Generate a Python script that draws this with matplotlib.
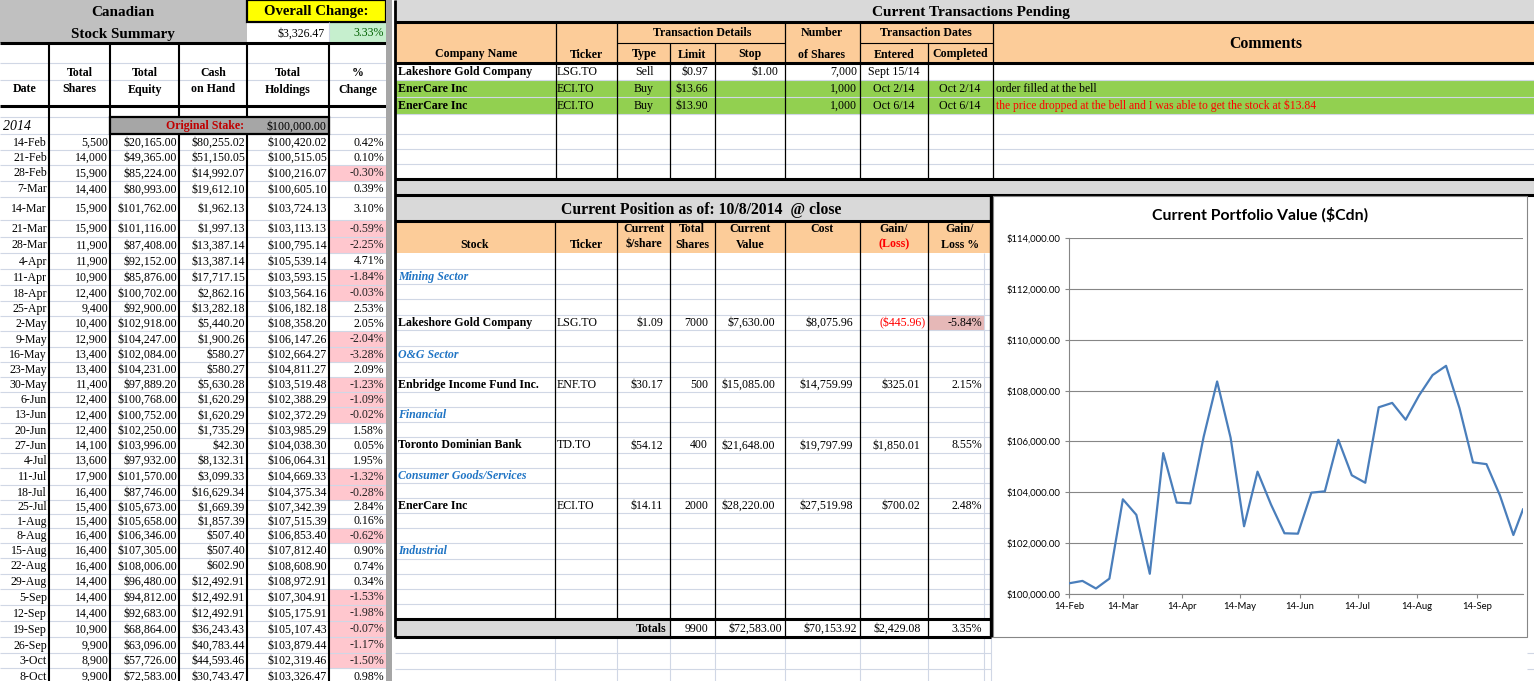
import pandas as pd
import matplotlib
matplotlib.use("Agg")
import matplotlib.pyplot as plt
import matplotlib.dates as mdates
from matplotlib.patches import Rectangle
from matplotlib.ticker import FuncFormatter, MultipleLocator

# ---------------- data: Canadian stock summary ----------------
summary_dates = ["14-Feb", "21-Feb", "28-Feb", "7-Mar", "14-Mar", "21-Mar", "28-Mar",
                 "4-Apr", "11-Apr", "18-Apr", "25-Apr", "2-May", "9-May", "16-May",
                 "23-May", "30-May", "6-Jun", "13-Jun", "20-Jun", "27-Jun", "4-Jul",
                 "11-Jul", "18-Jul", "25-Jul", "1-Aug", "8-Aug", "15-Aug", "22-Aug",
                 "29-Aug", "5-Sep", "12-Sep", "19-Sep", "26-Sep", "3-Oct", "8-Oct"]
total_shares = [5500, 14000, 15900, 14400, 15900, 15900, 11900, 11900, 10900, 12400,
                9400, 10400, 12900, 13400, 13400, 11400, 12400, 12400, 12400, 14100,
                13600, 17900, 16400, 15400, 15400, 16400, 16400, 16400, 14400, 14400,
                14400, 10900, 9900, 8900, 9900]
total_equity = [20165.00, 49365.00, 85224.00, 80993.00, 101762.00, 101116.00, 87408.00,
                92152.00, 85876.00, 100702.00, 92900.00, 102918.00, 104247.00, 102084.00,
                104231.00, 97889.20, 100768.00, 100752.00, 102250.00, 103996.00, 97932.00,
                101570.00, 87746.00, 105673.00, 105658.00, 106346.00, 107305.00, 108006.00,
                96480.00, 94812.00, 92683.00, 68864.00, 63096.00, 57726.00, 72583.00]
cash_on_hand = [80255.02, 51150.05, 14992.07, 19612.10, 1962.13, 1997.13, 13387.14,
                13387.14, 17717.15, 2862.16, 13282.18, 5440.20, 1900.26, 580.27,
                580.27, 5630.28, 1620.29, 1620.29, 1735.29, 42.30, 8132.31,
                3099.33, 16629.34, 1669.39, 1857.39, 507.40, 507.40, 602.90,
                12492.91, 12492.91, 12492.91, 36243.43, 40783.44, 44593.46, 30743.47]
total_holdings = [100420.02, 100515.05, 100216.07, 100605.10, 103724.13, 103113.13, 100795.14,
                  105539.14, 103593.15, 103564.16, 106182.18, 108358.20, 106147.26, 102664.27,
                  104811.27, 103519.48, 102388.29, 102372.29, 103985.29, 104038.30, 106064.31,
                  104669.33, 104375.34, 107342.39, 107515.39, 106853.40, 107812.40, 108608.90,
                  108972.91, 107304.91, 105175.91, 105107.43, 103879.44, 102319.46, 103326.47]
pct_change = [0.42, 0.10, -0.30, 0.39, 3.10, -0.59, -2.25, 4.71, -1.84, -0.03, 2.53, 2.05,
              -2.04, -3.28, 2.09, -1.23, -1.09, -0.02, 1.58, 0.05, 1.95, -1.32, -0.28, 2.84,
              0.16, -0.62, 0.90, 0.74, 0.34, -1.53, -1.98, -0.07, -1.17, -1.50, 0.98]
original_stake = 100000.00
overall_change = 3326.47
overall_pct = 3.33

# ---------------- data: transactions pending ----------------
tx_company = ["Lakeshore Gold Company", "EnerCare Inc", "EnerCare Inc"]
tx_ticker = ["LSG.TO", "ECI.TO", "ECI.TO"]
tx_type = ["Sell", "Buy", "Buy"]
tx_limit = ["$0.97", "$13.66", "$13.90"]
tx_stop = ["$1.00", "", ""]
tx_shares = ["7,000", "1,000", "1,000"]
tx_entered = ["Sept 15/14", "Oct 2/14", "Oct 6/14"]
tx_completed = ["", "Oct 2/14", "Oct 6/14"]
tx_comments = ["", "order filled at the bell",
               "the price dropped at the bell and I was able to get the stock at $13.84"]

# ---------------- data: current position ----------------
sectors = ["Mining Sector", "O&G Sector", "Financial", "Consumer Goods/Services", "Industrial"]
pos_stock = ["Lakeshore Gold Company", "Enbridge Income Fund Inc.", "Toronto Dominian Bank", "EnerCare Inc"]
pos_ticker = ["LSG.TO", "ENF.TO", "TD.TO", "ECI.TO"]
pos_price = [1.09, 30.17, 54.12, 14.11]
pos_shares = [7000, 500, 400, 2000]
pos_value = [7630.00, 15085.00, 21648.00, 28220.00]
pos_cost = [8075.96, 14759.99, 19797.99, 27519.98]
pos_gain = [-445.96, 325.01, 1850.01, 700.02]
pos_gain_pct = [-5.84, 2.15, 8.55, 2.48]
totals = ["9900", "$72,583.00", "$70,153.92", "$2,429.08", "3.35%"]

# ---------------- layout (pixels) ----------------
W, H = 1534, 681
L_COLS = [0, 49, 110, 179, 247, 329, 386]
L_ROWS = [134, 150, 165, 181, 197, 220, 237, 253, 269, 285, 301, 316, 331, 347, 362, 377,
          392, 407, 423, 438, 453, 468, 485, 500, 514, 528, 543, 558, 574, 589, 605, 621,
          637, 653, 668, 684]
T_ROWS = [63, 80, 97, 114, 134, 149, 164, 179]
P_COLS = [395, 555, 617, 670, 715, 785, 860, 928, 991]
P_ROWS = [253, 269, 284, 299, 315, 330, 346, 362, 377, 392, 407, 422, 437, 453, 468, 483,
          498, 513, 528, 543, 559, 574, 589, 604, 619]
SECTOR_ROW = [1, 6, 10, 14, 19]
STOCK_ROW = [4, 8, 12, 16]

GRID = "#d0d7e5"
PEACH = "#fccc99"
LGRAY = "#d9d9d9"
SERIF = "Liberation Serif"
FS = 8.6

fig = plt.figure(figsize=(W / 100, H / 100), dpi=100)
ax = fig.add_axes([0, 0, 1, 1])
ax.set_xlim(0, W)
ax.set_ylim(H, 0)
ax.axis("off")


def box(x0, y0, x1, y1, fc, z=1, ec="none", lw=0):
    ax.add_patch(Rectangle((x0, y0), x1 - x0, y1 - y0, facecolor=fc, edgecolor=ec, lw=lw, zorder=z))


def hl(y, x0, x1, c="black", lw=0.8, z=3):
    ax.hlines(y, x0, x1, colors=c, lw=lw, zorder=z)


def vl(x, y0, y1, c="black", lw=0.8, z=3):
    ax.vlines(x, y0, y1, colors=c, lw=lw, zorder=z)


def put(x, y, s, ha="left", size=FS, weight="normal", style="normal", color="black", family=SERIF):
    ax.text(x, y + 0.5, s, ha=ha, va="center", fontsize=size, fontweight=weight,
            fontstyle=style, color=color, family=family, zorder=6)


def money(v):
    return f"${v:,.2f}"


# ================= left: stock summary =================
box(0, 0, 247, 43, "#c0c0c0")
put(123, 12, "Canadian", "center", 10.9, "bold")
put(123, 34, "Stock Summary", "center", 10.9, "bold")
box(247, 0, 386, 22, "#ffff00", z=2, ec="black", lw=1.6)
put(316, 11, "Overall Change:", "center", 10.6, "bold")
box(329, 22, 386, 43, "#c6efce")
put(325, 33, money(overall_change), "right")
put(384, 33, f"{overall_pct:.2f}%", "right", color="#006100")
vl(329, 22, 43, GRID, 0.8)
hl(43, 0, 386, lw=2.2)

for y in [63, 80, 117] + L_ROWS:
    hl(y, 0, 386, GRID, 0.8, z=2)
for x in L_COLS[1:-1]:
    vl(x, 43, H, lw=1.5)
hl(106, 0, 386, lw=2.2)

heads = [("", "Date"), ("Total", "Shares"), ("Total", "Equity"), ("Cash", "on Hand"),
         ("Total", "Holdings"), ("%", "Change")]
for i, (a, b) in enumerate(heads):
    cx = (L_COLS[i] + L_COLS[i + 1]) / 2
    put(cx, 72, a, "center", weight="bold")
    put(cx, 89, b, "center", weight="bold")

box(110, 117, 329, 134, "#a6a6a6", z=4, ec="black", lw=1.6)
put(244, 126, "Original Stake:", "right", weight="bold", color="#c00000")
put(326, 126, money(original_stake), "right")
put(3, 126, "2014", size=10, style="italic")

for i, d in enumerate(summary_dates):
    y0, y1 = L_ROWS[i], L_ROWS[i + 1]
    yc = (y0 + y1) / 2
    if pct_change[i] < 0:
        box(330, y0 + 0.5, 386, y1 - 0.5, "#ffc7ce")
    put(47, yc, d, "right")
    put(108, yc, f"{total_shares[i]:,}", "right")
    put(177, yc, money(total_equity[i]), "right")
    put(245, yc, money(cash_on_hand[i]), "right")
    put(327, yc, money(total_holdings[i]), "right")
    put(384, yc, f"{pct_change[i]:.2f}%", "right", color="#222222" if pct_change[i] < 0 else "black")

box(386, 0, 392, H, "#a6a6a6", z=4)

# ================= right top: transactions pending =================
box(395, 0, W, 22, LGRAY)
put(971, 12, "Current Transactions Pending", "center", 11, "bold")
box(395, 22, W, 63, PEACH)
box(395, 80, W, 114, "#92d050")
for y in T_ROWS[1:-1]:
    hl(y, 395, W, GRID, 0.8, z=2)
hl(43, 617, 785, lw=0.8)
hl(43, 860, 993, lw=0.8)
for x in [556, 617, 785, 860, 993]:
    vl(x, 22, 179, lw=0.9)
for x in [670, 715, 928]:
    vl(x, 43, 179, lw=0.9)
hl(22, 395, W, lw=2.2)
hl(63, 395, W, lw=2.2)
hl(179, 395, W, lw=2.2)
box(395, 179, W, 195, LGRAY)
hl(195, 395, W, lw=2.2)

put(702, 32, "Transaction Details", "center", weight="bold")
put(822, 32, "Number", "center", weight="bold")
put(926, 32, "Transaction Dates", "center", weight="bold")
put(1266, 43, "Comments", "center", 11.4, "bold")
for cx, s in [(476, "Company Name"), (587, "Ticker"), (644, "Type"), (692, "Limit"),
              (750, "Stop"), (822, "of Shares"), (894, "Entered"), (960, "Completed")]:
    put(cx, 54, s, "center", weight="bold")

for i in range(len(tx_company)):
    yc = (T_ROWS[i] + T_ROWS[i + 1]) / 2
    put(398, yc, tx_company[i], weight="bold")
    put(557, yc, tx_ticker[i])
    put(644, yc, tx_type[i], "center")
    put(708, yc, tx_limit[i], "right")
    put(778, yc, tx_stop[i], "right")
    put(857, yc, tx_shares[i], "right")
    put(894, yc, tx_entered[i], "center")
    put(960, yc, tx_completed[i], "center")
    put(996, yc, tx_comments[i], size=8.4, color="#ff0000" if i == 2 else "black")

# ================= right bottom: current position =================
box(395, 195, 991, 221, LGRAY)
put(701, 209, "Current Position as of: 10/8/2014  @ close", "center", 11.3, "bold")
hl(221, 395, 991, lw=2.2)
box(395, 221, 991, 253, PEACH)
for y in P_ROWS[1:-1]:
    hl(y, 395, 991, GRID, 0.8, z=2)
vl(984, 253, 619, GRID, 0.8)
for x in [555, 617]:
    vl(x, 221, 619, lw=0.9)
for x in [670, 715, 785, 860, 928]:
    vl(x, 221, 637, lw=0.9)

for cx, a, b in [(475, "", "Stock"), (586, "", "Ticker"), (644, "Current", "$/share"),
                 (692, "Total", "Shares"), (750, "Current", "Value"), (822, "Cost", ""),
                 (894, "Gain/", "(Loss)"), (960, "Gain/", "Loss %")]:
    put(cx, 228, a, "center", weight="bold")
    put(cx, 244, b, "center", weight="bold", color="#ff0000" if b == "(Loss)" else "black")

for s, r in zip(sectors, SECTOR_ROW):
    yc = (P_ROWS[r] + P_ROWS[r + 1]) / 2
    put(398, yc, s, weight="bold", style="italic", color="#1f74c4")

for i, r in enumerate(STOCK_ROW):
    y0, y1 = P_ROWS[r], P_ROWS[r + 1]
    yc = (y0 + y1) / 2
    put(398, yc, pos_stock[i], weight="bold")
    put(557, yc, pos_ticker[i])
    put(663, yc, money(pos_price[i]), "right")
    put(708, yc, str(pos_shares[i]), "right")
    put(775, yc, money(pos_value[i]), "right")
    put(853, yc, money(pos_cost[i]), "right")
    g = pos_gain[i]
    if g < 0:
        put(926, yc, f"(${-g:,.2f})", "right", color="#ff0000")
        box(928.5, y0 + 0.5, 984, y1 - 0.5, "#e6b8b7")
    else:
        put(920, yc, money(g), "right")
    put(982, yc, f"{pos_gain_pct[i]:.2f}%", "right")

box(395, 619, 670, 637, LGRAY)
yt = 628
put(666, yt, "Totals", "right", weight="bold")
for x, s in zip([708, 782, 857, 921, 982], totals):
    put(x, yt, s, "right")
hl(619, 395, 991, lw=2.2)
hl(637, 395, 991, lw=2.2)
for y in [653, 669]:
    hl(y, 395, 991, GRID, 0.8, z=2)
for x in P_COLS[1:] + [984]:
    vl(x, 637, H, GRID, 0.8, z=2)
for y in [653, 669]:
    hl(y, 1527, W, GRID, 0.8, z=2)
vl(395, 0, 637, lw=2.0)
vl(991, 195, 637, lw=2.4)

# ================= chart: current portfolio value =================
box(993, 196, 1527, 637, "white", z=7, ec="#868686", lw=0.8)
ax.text(1260, 215, "Current Portfolio Value ($Cdn)", ha="center", va="center",
        fontsize=11.4, fontweight="bold", family="Lato", zorder=8)

cax = fig.add_axes([1069 / W, 1 - 594 / H, (1523 - 1069) / W, (594 - 238) / H])
cax.set_zorder(10)
cax.patch.set_alpha(0)
chart_dates = pd.to_datetime([d + "-2014" for d in summary_dates], format="%d-%b-%Y")
cax.plot(chart_dates, total_holdings, color="#4a7ebb", lw=1.6, zorder=3)
cax.set_xlim(chart_dates[0], chart_dates[-1])
cax.set_ylim(100000, 114000)
cax.yaxis.set_major_locator(MultipleLocator(2000))
cax.yaxis.set_major_formatter(FuncFormatter(lambda v, p: f"${v:,.2f}"))
cax.xaxis.set_major_locator(mdates.MonthLocator(bymonthday=14))
cax.xaxis.set_major_formatter(mdates.DateFormatter("%d-%b"))
cax.grid(axis="y", color="#868686", lw=0.8)
cax.set_axisbelow(True)
for s in ["top", "right"]:
    cax.spines[s].set_visible(False)
for s in ["left", "bottom"]:
    cax.spines[s].set_color("#868686")
    cax.spines[s].set_linewidth(0.8)
cax.tick_params(colors="#868686", length=3, width=0.8, labelsize=6.8, labelcolor="black")
cax.tick_params(axis="y", pad=3)
cax.tick_params(axis="x", pad=3)
for lab in cax.get_xticklabels() + cax.get_yticklabels():
    lab.set_family("Lato")

fig.savefig("out.png", dpi=100)
